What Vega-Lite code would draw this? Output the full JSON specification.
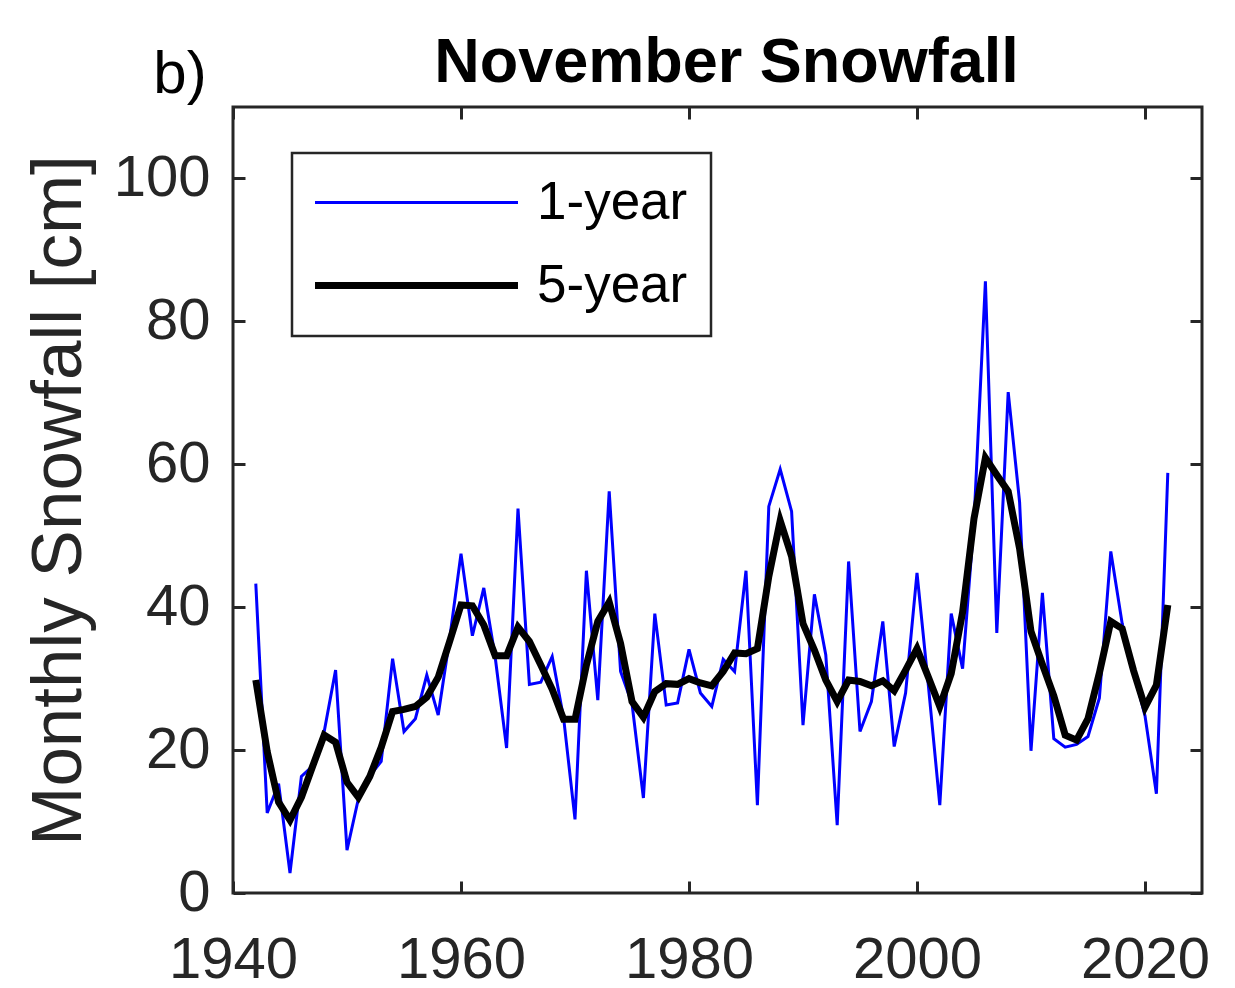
{
  "$schema": "https://vega.github.io/schema/vega-lite/v6.json",
  "width": 969,
  "height": 786,
  "autosize": {"type": "none"},
  "padding": {"left": 233, "top": 107, "right": 33, "bottom": 95},
  "background": "white",
  "config": {
    "font": "Liberation Sans",
    "view": {"stroke": "#262626", "strokeWidth": 3},
    "axis": {
      "grid": false,
      "domain": false,
      "tickSize": -12,
      "tickWidth": 3,
      "tickColor": "#262626",
      "labelColor": "#262626",
      "labelFontSize": 58,
      "labelFont": "Liberation Sans",
      "titleFont": "Liberation Sans",
      "titleColor": "#262626",
      "titleFontWeight": "normal",
      "zindex": 1
    }
  },
  "data": {
    "values": [
      {"year": 1942, "1-year": 43.3, "5-year": 29.8},
      {"year": 1943, "1-year": 11.2, "5-year": 19.8},
      {"year": 1944, "1-year": 15.3, "5-year": 12.7},
      {"year": 1945, "1-year": 2.8, "5-year": 10.2},
      {"year": 1946, "1-year": 16.3, "5-year": 13.4},
      {"year": 1947, "1-year": 17.8, "5-year": 17.8},
      {"year": 1948, "1-year": 22.6, "5-year": 22.1},
      {"year": 1949, "1-year": 31.2, "5-year": 21.1},
      {"year": 1950, "1-year": 6.0, "5-year": 15.5},
      {"year": 1951, "1-year": 13.2, "5-year": 13.4},
      {"year": 1952, "1-year": 16.4, "5-year": 16.3},
      {"year": 1953, "1-year": 18.4, "5-year": 20.4},
      {"year": 1954, "1-year": 32.8, "5-year": 25.4},
      {"year": 1955, "1-year": 22.6, "5-year": 25.7},
      {"year": 1956, "1-year": 24.4, "5-year": 26.1},
      {"year": 1957, "1-year": 30.5, "5-year": 27.4},
      {"year": 1958, "1-year": 24.9, "5-year": 30.2},
      {"year": 1959, "1-year": 35.5, "5-year": 35.2},
      {"year": 1960, "1-year": 47.5, "5-year": 40.3},
      {"year": 1961, "1-year": 36.0, "5-year": 40.2},
      {"year": 1962, "1-year": 42.7, "5-year": 37.5},
      {"year": 1963, "1-year": 33.0, "5-year": 33.2},
      {"year": 1964, "1-year": 20.3, "5-year": 33.2},
      {"year": 1965, "1-year": 53.8, "5-year": 37.2},
      {"year": 1966, "1-year": 29.2, "5-year": 35.2},
      {"year": 1967, "1-year": 29.5, "5-year": 31.9},
      {"year": 1968, "1-year": 33.1, "5-year": 28.5},
      {"year": 1969, "1-year": 24.5, "5-year": 24.3},
      {"year": 1970, "1-year": 10.3, "5-year": 24.3},
      {"year": 1971, "1-year": 45.1, "5-year": 31.9},
      {"year": 1972, "1-year": 27.0, "5-year": 38.0},
      {"year": 1973, "1-year": 56.2, "5-year": 40.7},
      {"year": 1974, "1-year": 31.0, "5-year": 34.9},
      {"year": 1975, "1-year": 26.5, "5-year": 26.8},
      {"year": 1976, "1-year": 13.3, "5-year": 24.6},
      {"year": 1977, "1-year": 39.1, "5-year": 28.2},
      {"year": 1978, "1-year": 26.3, "5-year": 29.3},
      {"year": 1979, "1-year": 26.6, "5-year": 29.2},
      {"year": 1980, "1-year": 34.1, "5-year": 30.0},
      {"year": 1981, "1-year": 28.0, "5-year": 29.4},
      {"year": 1982, "1-year": 26.1, "5-year": 29.0},
      {"year": 1983, "1-year": 32.7, "5-year": 31.0},
      {"year": 1984, "1-year": 31.0, "5-year": 33.6},
      {"year": 1985, "1-year": 45.1, "5-year": 33.5},
      {"year": 1986, "1-year": 12.3, "5-year": 34.2},
      {"year": 1987, "1-year": 54.1, "5-year": 44.3},
      {"year": 1988, "1-year": 59.3, "5-year": 52.1},
      {"year": 1989, "1-year": 53.4, "5-year": 47.1},
      {"year": 1990, "1-year": 23.5, "5-year": 37.7},
      {"year": 1991, "1-year": 41.8, "5-year": 34.0},
      {"year": 1992, "1-year": 33.3, "5-year": 29.8},
      {"year": 1993, "1-year": 9.5, "5-year": 26.8},
      {"year": 1994, "1-year": 46.4, "5-year": 29.8},
      {"year": 1995, "1-year": 22.6, "5-year": 29.6},
      {"year": 1996, "1-year": 26.8, "5-year": 29.0},
      {"year": 1997, "1-year": 38.0, "5-year": 29.7},
      {"year": 1998, "1-year": 20.5, "5-year": 28.3},
      {"year": 1999, "1-year": 28.0, "5-year": 31.2},
      {"year": 2000, "1-year": 44.8, "5-year": 34.2},
      {"year": 2001, "1-year": 29.0, "5-year": 30.2},
      {"year": 2002, "1-year": 12.3, "5-year": 26.1},
      {"year": 2003, "1-year": 39.1, "5-year": 30.7},
      {"year": 2004, "1-year": 31.4, "5-year": 39.3},
      {"year": 2005, "1-year": 52.0, "5-year": 52.4},
      {"year": 2006, "1-year": 85.6, "5-year": 60.9},
      {"year": 2007, "1-year": 36.4, "5-year": 58.5},
      {"year": 2008, "1-year": 70.1, "5-year": 56.2},
      {"year": 2009, "1-year": 54.7, "5-year": 48.2},
      {"year": 2010, "1-year": 19.9, "5-year": 36.6},
      {"year": 2011, "1-year": 42.0, "5-year": 32.0},
      {"year": 2012, "1-year": 21.6, "5-year": 27.6},
      {"year": 2013, "1-year": 20.4, "5-year": 22.1},
      {"year": 2014, "1-year": 20.8, "5-year": 21.4},
      {"year": 2015, "1-year": 21.9, "5-year": 24.4},
      {"year": 2016, "1-year": 27.3, "5-year": 30.8},
      {"year": 2017, "1-year": 47.8, "5-year": 38.0},
      {"year": 2018, "1-year": 37.7, "5-year": 37.0},
      {"year": 2019, "1-year": 31.0, "5-year": 31.1},
      {"year": 2020, "1-year": 24.8, "5-year": 26.0},
      {"year": 2021, "1-year": 13.9, "5-year": 29.1},
      {"year": 2022, "1-year": 58.8, "5-year": 40.3}
    ]
  },
  "layer": [
    {
      "transform": [
        {"fold": ["1-year", "5-year"], "as": ["series", "value"]},
        {"filter": "datum.series === '1-year'"}
      ],
      "mark": {"type": "line", "clip": true},
      "encoding": {
        "x": {
          "field": "year", "type": "quantitative",
          "scale": {"domain": [1940, 2025], "nice": false, "zero": false},
          "axis": {"orient": "bottom", "title": null, "values": [1940, 1960, 1980, 2000, 2020], "format": "d", "labelPadding": 50, "labelFlush": false}
        },
        "y": {
          "field": "value", "type": "quantitative",
          "scale": {"domain": [0, 110], "nice": false, "zero": true},
          "axis": {"orient": "left", "title": "Monthly Snowfall [cm]", "titleFontSize": 71, "titlePadding": 18, "values": [0, 20, 40, 60, 80, 100], "labelPadding": 35}
        },
        "color": {
          "field": "series", "type": "ordinal",
          "scale": {"domain": ["1-year", "5-year"], "range": ["#0000ff", "#000000"]},
          "legend": {
            "title": null,
            "orient": "none",
            "legendX": 59,
            "legendY": 46,
            "padding": 23,
            "strokeColor": "#262626",
            "fillColor": "#ffffff",
            "symbolType": "M-10,0H10",
            "symbolSize": 412,
            "symbolOffset": 75,
            "labelOffset": 94,
            "labelFontSize": 53,
            "labelColor": "#000000",
            "labelFont": "Liberation Sans",
            "rowPadding": 29,
            "encode": {"legend": {"update": {"strokeWidth": {"value": 2.5}}}}
          }
        },
        "strokeWidth": {
          "field": "series", "type": "ordinal",
          "scale": {"domain": ["1-year", "5-year"], "range": [3, 7]},
          "legend": {
            "title": null,
            "orient": "none",
            "legendX": 59,
            "legendY": 46,
            "padding": 23,
            "strokeColor": "#262626",
            "fillColor": "#ffffff",
            "symbolType": "M-10,0H10",
            "symbolSize": 412,
            "symbolOffset": 75,
            "labelOffset": 94,
            "labelFontSize": 53,
            "labelColor": "#000000",
            "labelFont": "Liberation Sans",
            "rowPadding": 29,
            "encode": {"legend": {"update": {"strokeWidth": {"value": 2.5}}}}
          }
        }
      }
    },
    {
      "transform": [
        {"fold": ["1-year", "5-year"], "as": ["series", "value"]},
        {"filter": "datum.series === '5-year'"}
      ],
      "mark": {"type": "line", "clip": true},
      "encoding": {
        "x": {
          "field": "year", "type": "quantitative",
          "axis": {
            "orient": "top",
            "title": "November Snowfall",
            "titleFontSize": 63,
            "titleFontWeight": "bold",
            "titleColor": "#000000",
            "titleBaseline": "alphabetic",
            "titlePadding": 24,
            "titleX": 493,
            "values": [1940, 1960, 1980, 2000, 2020],
            "labels": false
          }
        },
        "y": {
          "field": "value", "type": "quantitative",
          "axis": {"orient": "right", "title": null, "values": [0, 20, 40, 60, 80, 100], "labels": false}
        },
        "color": {"field": "series", "type": "ordinal"},
        "strokeWidth": {"field": "series", "type": "ordinal"}
      }
    },
    {
      "data": {"values": [{}]},
      "mark": {"type": "text", "text": "b)", "fontSize": 60, "font": "Liberation Sans", "color": "#000000", "align": "center", "baseline": "alphabetic"},
      "encoding": {
        "x": {"datum": 1935.35, "type": "quantitative", "axis": null},
        "y": {"datum": 112.0, "type": "quantitative", "axis": null}
      }
    }
  ],
  "resolve": {"axis": {"x": "independent", "y": "independent"}}
}
